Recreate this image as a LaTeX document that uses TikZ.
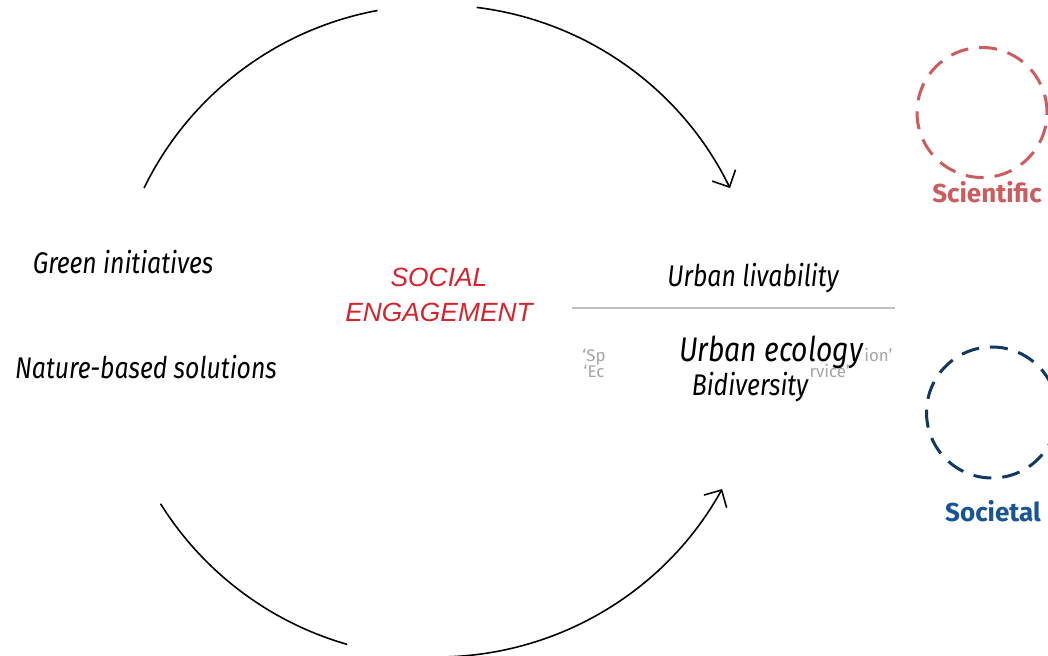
\documentclass[tikz,border=0pt]{standalone}
\usepackage{fontspec}
\setmainfont{Fira Sans}
\newfontfamily\themefont[FakeStretch=0.83]{Fira Sans}
\newfontfamily\helv{Liberation Sans}
\usetikzlibrary{arrows.meta}
\definecolor{sciRed}{RGB}{204,92,94}
\definecolor{socNavy}{RGB}{18,55,96}
\definecolor{socBlue}{RGB}{24,84,150}
\definecolor{engRed}{RGB}{214,36,46}
\definecolor{ghostGrey}{RGB}{165,165,165}
\tikzset{
  theme/.style={font=\fontsize{8.5}{10}\selectfont\themefont\itshape, inner sep=0pt, anchor=base},
  ghost/.style={font=\fontsize{4.8}{6}\selectfont, text=ghostGrey, inner sep=0pt, anchor=base},
  cyclearc/.style={draw=black, line width=0.45pt},
  ring/.style={dash pattern=on 0.18cm off 0.11cm, line width=0.03cm},
  kind/.style={font=\fontsize{7.4}{9}\selectfont\bfseries, inner sep=0pt, anchor=base},
}
\begin{document}
\begin{tikzpicture}
      \useasboundingbox (0,0) rectangle (10.48,-6.56);
      % the cycle
      \coordinate (c) at (4.37,-3.31);
      \draw[cyclearc] (c) ++(154:3.26) arc (154:100.5:3.26);
      \draw[cyclearc,-{Straight Barb[length=1.3mm,width=2.6mm]}] (c) ++(83:3.26) arc (83:26:3.26);
      \draw[cyclearc] (c) ++(212:3.26) arc (212:254:3.26);
      \draw[cyclearc,-{Straight Barb[length=1.3mm,width=2.6mm]}] (c) ++(269:3.26) arc (269:331:3.26);
      % left side
      \node[theme] (green) at (1.23,-2.74) {Green initiatives};
      \node[theme] (nbs) at (1.46,-3.79) {Nature-based solutions};
      % centre
      \node[font=\fontsize{7.5}{10}\selectfont\helv\itshape, text=engRed, align=center, inner sep=0pt] (eng) at (4.39,-2.95) {SOCIAL\\ENGAGEMENT};
      % right side
      \node[theme] (liv) at (7.53,-2.87) {Urban livability};
      \draw[draw=black!25, line width=0.6pt] (5.72,-3.08) -- (8.95,-3.08);
      \node[ghost] (sp) at (5.94,-3.62) {‘Sp};
      \node[ghost] (ec) at (5.94,-3.78) {‘Ec};
      \node[theme, font=\fontsize{9.7}{11}\selectfont\themefont\itshape] (eco) at (7.71,-3.62) {Urban ecology};
      \node[ghost, anchor=base west] (ion) at (eco.base east) {ion’};
      \node[theme] (bio) at (7.50,-3.96) {Bidiversity};
      \node[ghost, anchor=base west] (rvice) at ([yshift=0.18cm]bio.base east) {rvice’};
      % the two kinds
      \draw[sciRed, ring] (9.82,-1.125) circle (0.65);
      \node[kind, text=sciRed] (sci) at (9.87,-2.03) {Scientific};
      \draw[socNavy, ring] (9.92,-4.125) circle (0.655);
      \node[kind, text=socBlue] (soc) at (9.93,-5.22) {Societal};
\end{tikzpicture}
\end{document}
